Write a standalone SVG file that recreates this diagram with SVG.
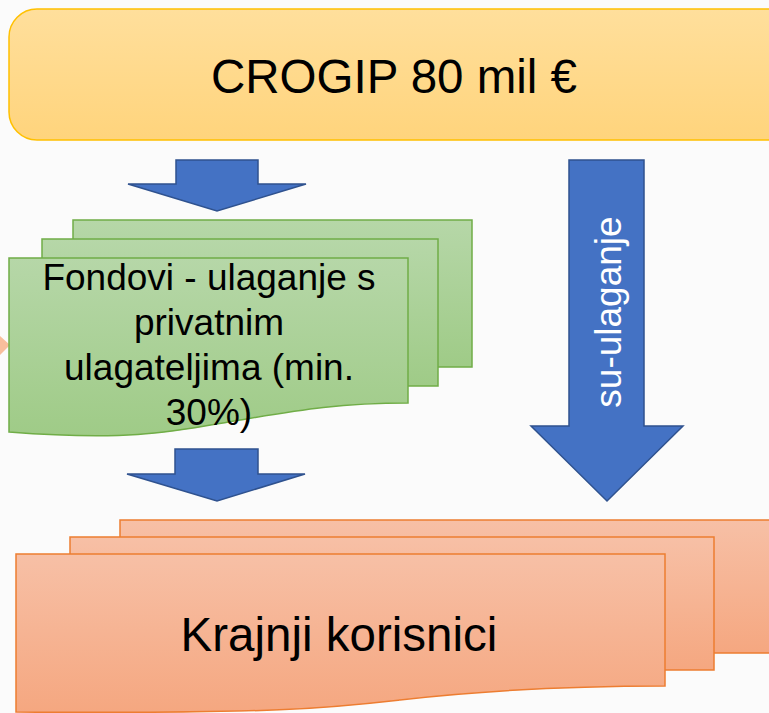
<svg xmlns="http://www.w3.org/2000/svg" width="769" height="713" viewBox="0 0 769 713">
<defs>
<linearGradient id="gy" x1="0" y1="0" x2="0" y2="1"><stop offset="0" stop-color="#FFDF9C"/><stop offset="1" stop-color="#FFD47C"/></linearGradient>
<linearGradient id="gg" x1="0" y1="0" x2="0" y2="1"><stop offset="0" stop-color="#B6D7A8"/><stop offset="1" stop-color="#9FCB87"/></linearGradient>
<linearGradient id="go" x1="0" y1="0" x2="0" y2="1"><stop offset="0" stop-color="#F7C0A6"/><stop offset="1" stop-color="#F5A780"/></linearGradient>
<style>
.txt{font-family:"Liberation Sans",Arial,sans-serif;fill:#000;text-anchor:middle}
.arrow{fill:#4472C4;stroke:#2F528F;stroke-width:1.5;stroke-linejoin:miter}
.green{fill:url(#gg);stroke:#70AD47;stroke-width:1.5}
.orange{fill:url(#go);stroke:#ED7D31;stroke-width:1.5}
</style>
</defs>
<rect width="769" height="713" fill="#FBFBFB"/>
<polygon points="0,336 10,345 0,355" fill="#F8BE9C"/>
<g id="crogip">
<rect x="9" y="9" width="790" height="131" rx="28" ry="28" fill="url(#gy)" stroke="#FFC000" stroke-width="1.5"/>
<text class="txt" x="394" y="93" font-size="47.5">CROGIP 80 mil €</text>
</g>
<g id="fondovi">
<rect class="green" x="73" y="220" width="399" height="147"/>
<rect class="green" x="42" y="239" width="396" height="147"/>
<path class="green" d="M9,258 H408 V403 C340,403 300,410 240,420 C180,430 140,442 9,432 Z"/>
<text class="txt" font-size="37"><tspan x="209" y="290">Fondovi - ulaganje s</tspan><tspan x="209" y="335">privatnim</tspan><tspan x="209" y="380">ulagateljima (min.</tspan><tspan x="209" y="425">30%)</tspan></text>
</g>
<g id="krajnji">
<rect class="orange" x="120" y="520" width="680" height="133"/>
<rect class="orange" x="70" y="537" width="644" height="133"/>
<path class="orange" d="M16,554 H665 V686 C560,686 470,692 400,700 C330,708 280,714 16,712 Z"/>
<text class="txt" x="339" y="651" font-size="47.5">Krajnji korisnici</text>
</g>
<g id="connectors">
<polygon class="arrow" points="176,160 258,160 258,184 306,184 217,211 128,184 176,184"/>
<polygon class="arrow" points="175,449 258,449 258,474 305,474 217,501 127,474 175,474"/>
<polygon class="arrow" points="569,160 644,160 644,426 683,426 607,501 531,426 569,426"/>
<text class="txt" font-size="37" style="fill:#fff" transform="translate(621,312) rotate(-90)">su-ulaganje</text>
</g>
</svg>
